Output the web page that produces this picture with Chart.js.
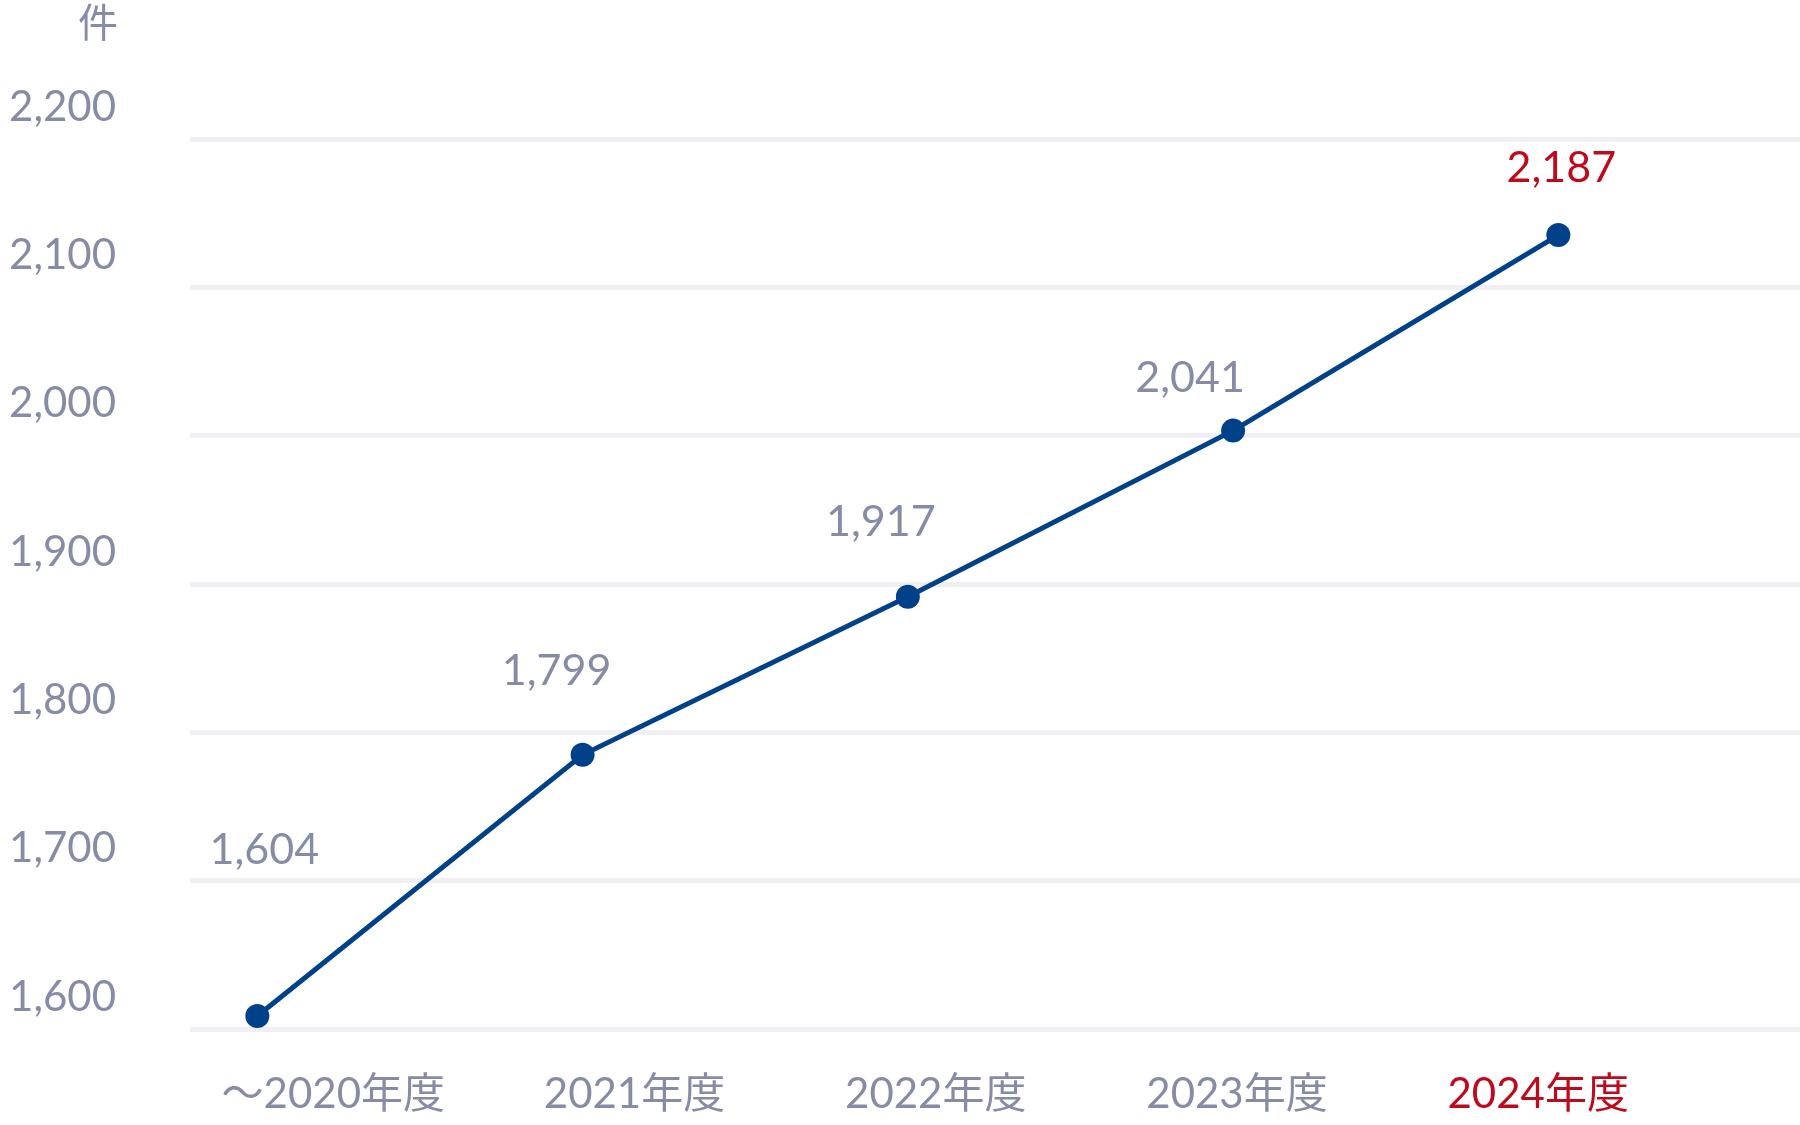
<!DOCTYPE html>
<html lang="ja">
<head>
<meta charset="utf-8">
<title>件数の推移</title>
<script src="https://cdn.jsdelivr.net/npm/chart.js@4.4.1/dist/chart.umd.min.js"></script>
<style>
    html, body { margin: 0; padding: 0; background: #fff; overflow: hidden; }
    #wrap { position: relative; width: 1800px; height: 1125px; }
</style>
</head>
<body>
<div id="wrap"><canvas id="line-chart"></canvas></div>
<script>
// data
const years = ['～2020年度', '2021年度', '2022年度', '2023年度', '2024年度'];
const counts = [1604, 1799, 1917, 2041, 2187];
const yTicks = [1600, 1700, 1800, 1900, 2000, 2100, 2200];
const unitLabel = '件';

const GRAY = '#878ca6';
const RED = '#bf0a1e';
const BLUE = '#00418a';
const FONT = "Lato, 'Noto Sans CJK JP', sans-serif";

// value labels above each point + unit caption
const valueLabels = {
    id: 'valueLabels',
    afterDatasetsDraw(chart, args, opts) {
        const ctx = chart.ctx;
        const pts = chart.getDatasetMeta(0).data;
        ctx.save();
        ctx.font = '43px ' + FONT;
        ctx.textAlign = 'center';
        ctx.textBaseline = 'middle';
        pts.forEach((p, i) => {
            const s = opts.shift[i];
            ctx.fillStyle = i === pts.length - 1 ? RED : GRAY;
            ctx.fillText(counts[i].toLocaleString('en-US'), p.x + s[0], p.y + s[1]);
        });
        ctx.font = "40px 'Noto Sans CJK JP', sans-serif";
        ctx.fillStyle = GRAY;
        ctx.fillText(unitLabel, chart.chartArea.left - 92, chart.chartArea.top - 117);
        ctx.restore();
    }
};

let lineChartBox = document.getElementById('line-chart');

if (lineChartBox) {
    let lineCtx = lineChartBox.getContext('2d');

    new Chart(lineCtx, {
        type: 'line',
        data: {
            datasets: [{
                label: unitLabel,
                data: counts.map((v, i) => ({ x: i, y: v })),
                xAxisID: 'x',
                yAxisID: 'yData',
                borderColor: BLUE,
                backgroundColor: BLUE,
                pointBackgroundColor: BLUE,
                pointBorderWidth: 0,
                pointRadius: 12,
                borderWidth: 5,
                tension: 0,
                fill: false
            }]
        },
        plugins: [valueLabels],
        options: {
            responsive: true,
            maintainAspectRatio: false,
            animation: false,
            layout: { autoPadding: false, padding: { top: 139, right: 0, bottom: 0, left: 0 } },
            plugins: {
                legend: { display: false },
                tooltip: { enabled: false },
                valueLabels: {
                    shift: [[7, -166], [-26, -84], [-27, -75], [-43, -52], [3, -67]]
                }
            },
            scales: {
                // data placement (hidden)
                x: {
                    type: 'linear', axis: 'x', display: false,
                    min: -0.207, max: 4.743
                },
                yData: {
                    type: 'linear', axis: 'y', display: false,
                    min: 1594.3, max: 2258.7
                },
                // category labels
                xl: {
                    type: 'linear', axis: 'x', position: 'bottom',
                    min: -0.4756, max: 4.869,
                    afterBuildTicks: a => { a.ticks = years.map((l, i) => ({ value: i })); },
                    afterFit: s => { s.height = 96; s.paddingLeft = 0; s.paddingRight = 0; },
                    grid: { display: false, drawTicks: false },
                    border: { display: false },
                    ticks: {
                        padding: 40,
                        autoSkip: false,
                        maxRotation: 0,
                        font: { family: FONT, size: 42 },
                        color: c => (c.index === years.length - 1 ? RED : GRAY),
                        callback: v => years[v]
                    }
                },
                y: {
                    type: 'linear', position: 'left',
                    min: yTicks[0], max: yTicks[yTicks.length - 1],
                    afterBuildTicks: a => { a.ticks = yTicks.map(v => ({ value: v })); },
                    afterFit: s => { s.width = 190; s.paddingTop = 0; s.paddingBottom = 0; },
                    grid: { color: '#efeff4', lineWidth: 5, drawTicks: false },
                    border: { display: false },
                    ticks: {
                        padding: 74,
                        labelOffset: -32,
                        font: { family: FONT, size: 42 },
                        color: GRAY,
                        callback: v => v.toLocaleString('en-US')
                    }
                }
            }
        }
    });
}
</script>
</body>
</html>
